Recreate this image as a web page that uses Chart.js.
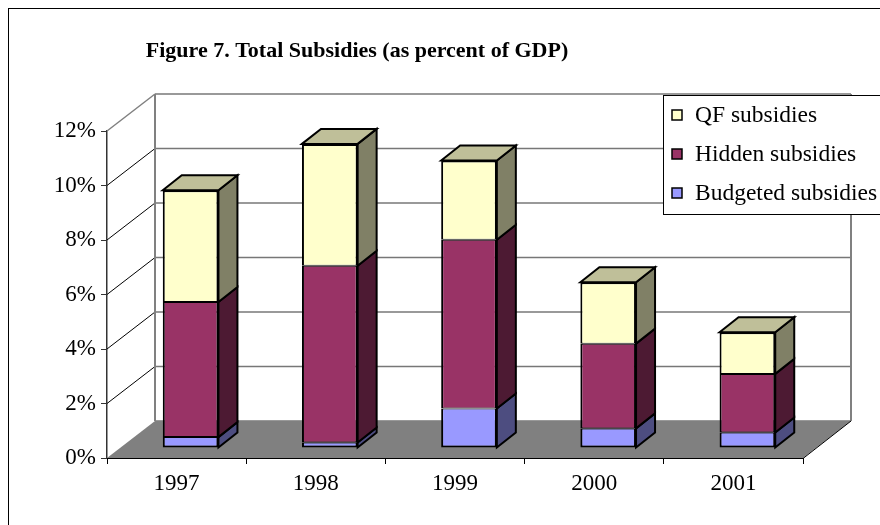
<!DOCTYPE html>
<html>
<head>
<meta charset="utf-8">
<script src="https://cdn.jsdelivr.net/npm/chart.js@4.4.1/dist/chart.umd.min.js"></script>
<style>
  body { margin: 0; background: #fff; }
  canvas { display: block; }
</style>
</head>
<body>
<canvas id="subsidyChart" width="880" height="525"></canvas>
<script>
// data (percent of GDP)
const years = ['1997', '1998', '1999', '2000', '2001'];
const budgeted = [0.4, 0.2, 1.45, 0.72, 0.57];
const hidden = [4.96, 6.49, 6.19, 3.11, 2.15];
const qf = [4.1, 4.47, 2.91, 2.25, 1.53];
const yMax = 12;
const yStep = 2;
const titleText = 'Figure 7. Total Subsidies (as percent of GDP)';

// fake 3D look, in pixels
const depth = { x: 48, y: -37 };     // floor / back wall offset
const barShift = { x: 14, y: -10 };  // front face of the bars sits a bit into the floor
const barDepth = { x: 19, y: -15 };  // thickness of each bar
const serif = '"Liberation Serif", "Times New Roman", serif';

// front, side and top colours per series
const shades = {
    budget: { front: '#9999FF', side: '#4D4D80', top: '#7373BF' },
    hidden: { front: '#993366', side: '#4D1A33', top: '#73264D' },
    qf:     { front: '#FFFFCC', side: '#808066', top: '#BFBF99' }
};

function poly(ctx, pts) {
    ctx.beginPath();
    ctx.moveTo(pts[0][0], pts[0][1]);
    for (let i = 1; i < pts.length; i++) ctx.lineTo(pts[i][0], pts[i][1]);
    ctx.closePath();
}

const threeD = {
    id: 'threeD',
    beforeDatasetsDraw(chart) {
        const ctx = chart.ctx;
        const a = chart.chartArea;
        const ys = chart.scales.y;

        ctx.save();
        // outer frame (cut off on the right and bottom)
        ctx.strokeStyle = '#000';
        ctx.lineWidth = 1;
        ctx.strokeRect(8.5, 8.5, 950, 600);

        // title
        ctx.fillStyle = '#000';
        ctx.font = 'bold 22px ' + serif;
        ctx.textAlign = 'center';
        ctx.textBaseline = 'middle';
        ctx.fillText(titleText, 357, 51);

        const bl = a.left + depth.x, br = a.right + depth.x;
        // back wall grid lines and the diagonals to the front axis
        for (let v = 0; v <= yMax; v += yStep) {
            const y = ys.getPixelForValue(v);
            ctx.strokeStyle = '#777';
            ctx.lineWidth = 1.6;
            ctx.beginPath();
            ctx.moveTo(bl, y + depth.y);
            ctx.lineTo(br, y + depth.y);
            ctx.stroke();
            if (v > 0) {
                ctx.strokeStyle = v === yMax ? '#808080' : '#000';
                ctx.lineWidth = v === yMax ? 1.5 : 1;
                ctx.beginPath();
                ctx.moveTo(a.left, y);
                ctx.lineTo(bl, y + depth.y);
                ctx.stroke();
            }
        }
        // wall edges
        ctx.strokeStyle = '#808080';
        ctx.lineWidth = 2;
        ctx.beginPath();
        ctx.moveTo(bl, a.top + depth.y);
        ctx.lineTo(bl, a.bottom + depth.y);
        ctx.moveTo(br, a.top + depth.y);
        ctx.lineTo(br, a.bottom + depth.y);
        ctx.stroke();

        // floor
        poly(ctx, [[a.left, a.bottom], [a.right, a.bottom], [br, a.bottom + depth.y], [bl, a.bottom + depth.y]]);
        ctx.fillStyle = '#808080';
        ctx.fill();
        ctx.strokeStyle = '#000';
        ctx.lineWidth = 1;
        ctx.beginPath();
        ctx.moveTo(a.left, a.bottom + 0.5);
        ctx.lineTo(a.right, a.bottom + 0.5);
        ctx.lineTo(br, a.bottom + depth.y);
        ctx.stroke();
        ctx.restore();

        // side and top faces of the bars, Chart.js draws the front faces afterwards
        ctx.save();
        ctx.translate(barShift.x, barShift.y);
        const n = chart.data.datasets.length;
        chart.data.datasets.forEach((ds, i) => {
            const meta = chart.getDatasetMeta(i);
            meta.data.forEach(el => {
                const p = el.getProps(['x', 'y', 'base', 'width'], true);
                const xl = p.x - p.width / 2, xr = p.x + p.width / 2;
                const yt = Math.min(p.y, p.base), yb = Math.max(p.y, p.base);
                ctx.lineWidth = 2;
                ctx.lineJoin = 'miter';
                ctx.strokeStyle = '#000';
                poly(ctx, [[xr, yt], [xr + barDepth.x, yt + barDepth.y], [xr + barDepth.x, yb + barDepth.y], [xr, yb]]);
                ctx.fillStyle = ds.sideColor;
                ctx.fill();
                ctx.stroke();
                if (i === n - 1) {
                    poly(ctx, [[xl, yt], [xl + barDepth.x, yt + barDepth.y], [xr + barDepth.x, yt + barDepth.y], [xr, yt]]);
                    ctx.fillStyle = ds.topColor;
                    ctx.fill();
                    ctx.stroke();
                }
            });
        });
    },
    afterDatasetsDraw(chart) {
        chart.ctx.restore();
    },
    afterDraw(chart) {
        // legend box, series listed top to bottom like the stack
        const ctx = chart.ctx;
        ctx.save();
        ctx.fillStyle = '#fff';
        ctx.strokeStyle = '#000';
        ctx.lineWidth = 1;
        ctx.fillRect(663.5, 95.5, 300, 119);
        ctx.strokeRect(663.5, 95.5, 300, 119);
        const items = chart.data.datasets.slice().reverse();
        const rowY = [115, 154, 193];
        ctx.font = '23.5px ' + serif;
        ctx.textAlign = 'left';
        ctx.textBaseline = 'middle';
        items.forEach((ds, i) => {
            ctx.fillStyle = ds.backgroundColor;
            ctx.fillRect(672, rowY[i] - 5, 10, 10);
            ctx.lineWidth = 1.5;
            ctx.strokeRect(672, rowY[i] - 5, 10, 10);
            ctx.fillStyle = '#000';
            ctx.fillText(ds.label, 695, rowY[i] + 1);
        });
        ctx.restore();
    }
};

new Chart(document.getElementById('subsidyChart'), {
    type: 'bar',
    data: {
        labels: years,
        datasets: [
            {
                label: 'Budgeted subsidies', data: budgeted,
                backgroundColor: shades.budget.front, sideColor: shades.budget.side, topColor: shades.budget.top,
                borderColor: '#000', borderWidth: { left: 2, right: 2, top: 1, bottom: 2 }, borderSkipped: false
            },
            {
                label: 'Hidden subsidies', data: hidden,
                backgroundColor: shades.hidden.front, sideColor: shades.hidden.side, topColor: shades.hidden.top,
                borderColor: '#000', borderWidth: { left: 2, right: 2, top: 1, bottom: 1 }, borderSkipped: false
            },
            {
                label: 'QF subsidies', data: qf,
                backgroundColor: shades.qf.front, sideColor: shades.qf.side, topColor: shades.qf.top,
                borderColor: '#000', borderWidth: { left: 2, right: 2, top: 2, bottom: 1 }, borderSkipped: false
            }
        ]
    },
    options: {
        responsive: false,
        animation: false,
        events: [],
        layout: { padding: { top: 131, right: 77, left: 0, bottom: 0 } },
        datasets: { bar: { categoryPercentage: 0.4, barPercentage: 1, inflateAmount: 0 } },
        plugins: { legend: { display: false }, title: { display: false }, tooltip: { enabled: false } },
        scales: {
            x: {
                stacked: true,
                afterFit: s => { s.height = 67; },
                border: { color: '#000', width: 1 },
                grid: { drawOnChartArea: false, tickLength: 6, color: '#000', offset: true },
                ticks: { color: '#000', font: { family: serif, size: 23 }, padding: 6 }
            },
            y: {
                stacked: true,
                min: 0, max: yMax,
                afterFit: s => { s.width = 107; },
                border: { color: '#333', width: 1.5 },
                grid: { drawOnChartArea: false, tickLength: 6, color: '#333' },
                ticks: {
                    stepSize: yStep, color: '#000', padding: 5,
                    font: { family: serif, size: 23 },
                    callback: v => v + '%'
                }
            }
        }
    },
    plugins: [threeD]
});
</script>
</body>
</html>
